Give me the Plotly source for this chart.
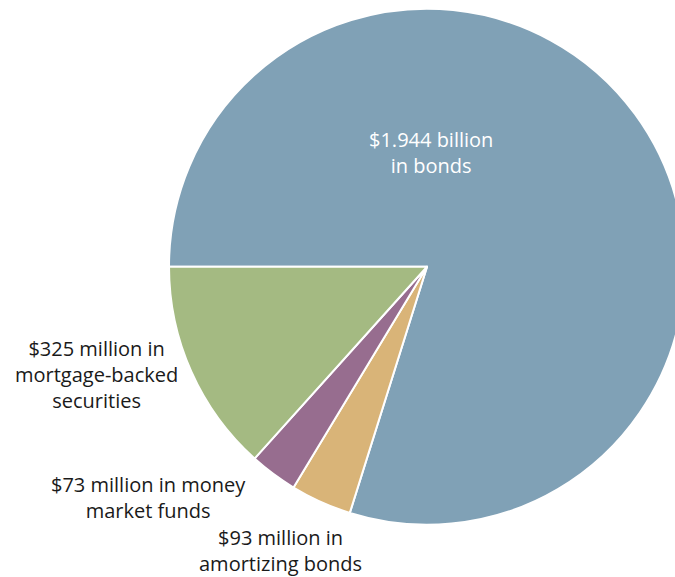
import plotly.graph_objects as go

# Data (clockwise order starting from 9 o'clock)
categories = ["Bonds", "Amortizing bonds", "Money market funds", "Mortgage-backed securities"]
values_millions = [1944, 93, 73, 325]
colors = ["#80A1B6", "#D9B478", "#976D8F", "#A4BA82"]

# Slice labels
label_texts = [
    "$1.944 billion<br>in bonds",
    "$93 million in<br>amortizing bonds",
    "$73 million in money<br>market funds",
    "$325 million in<br>mortgage-backed<br>securities",
]
label_x = [0.6285, 0.4088, 0.2168, 0.1409]
label_y = [0.7357, 0.0451, 0.1378, 0.3501]
label_colors = ["white", "#1a1a1a", "#1a1a1a", "#1a1a1a"]

FONT = "Open Sans"
W, H = 685, 577

fig = go.Figure(
    go.Pie(
        labels=categories,
        values=values_millions,
        sort=False,
        direction="clockwise",
        rotation=270,
        marker=dict(colors=colors, line=dict(color="white", width=2)),
        textinfo="none",
        hoverinfo="label+value",
        domain=dict(x=[169 / W, 1.0], y=[0.0906, 0.9849]),
        showlegend=False,
    )
)

for t, x, y, c in zip(label_texts, label_x, label_y, label_colors):
    fig.add_annotation(
        text=t, x=x, y=y, xref="paper", yref="paper",
        xanchor="center", yanchor="middle", showarrow=False,
        align="center", font=dict(family=FONT, size=20, color=c),
    )

fig.update_layout(
    width=W, height=H,
    margin=dict(l=0, r=0, t=0, b=0),
    paper_bgcolor="white", plot_bgcolor="white",
    font=dict(family=FONT),
)

fig.write_html(
    "out.html",
    config={"displayModeBar": False},
    post_script=(
        "document.body.style.margin='0';"
        "document.body.style.overflow='hidden';"
        "document.documentElement.style.overflow='hidden';"
    ),
)
